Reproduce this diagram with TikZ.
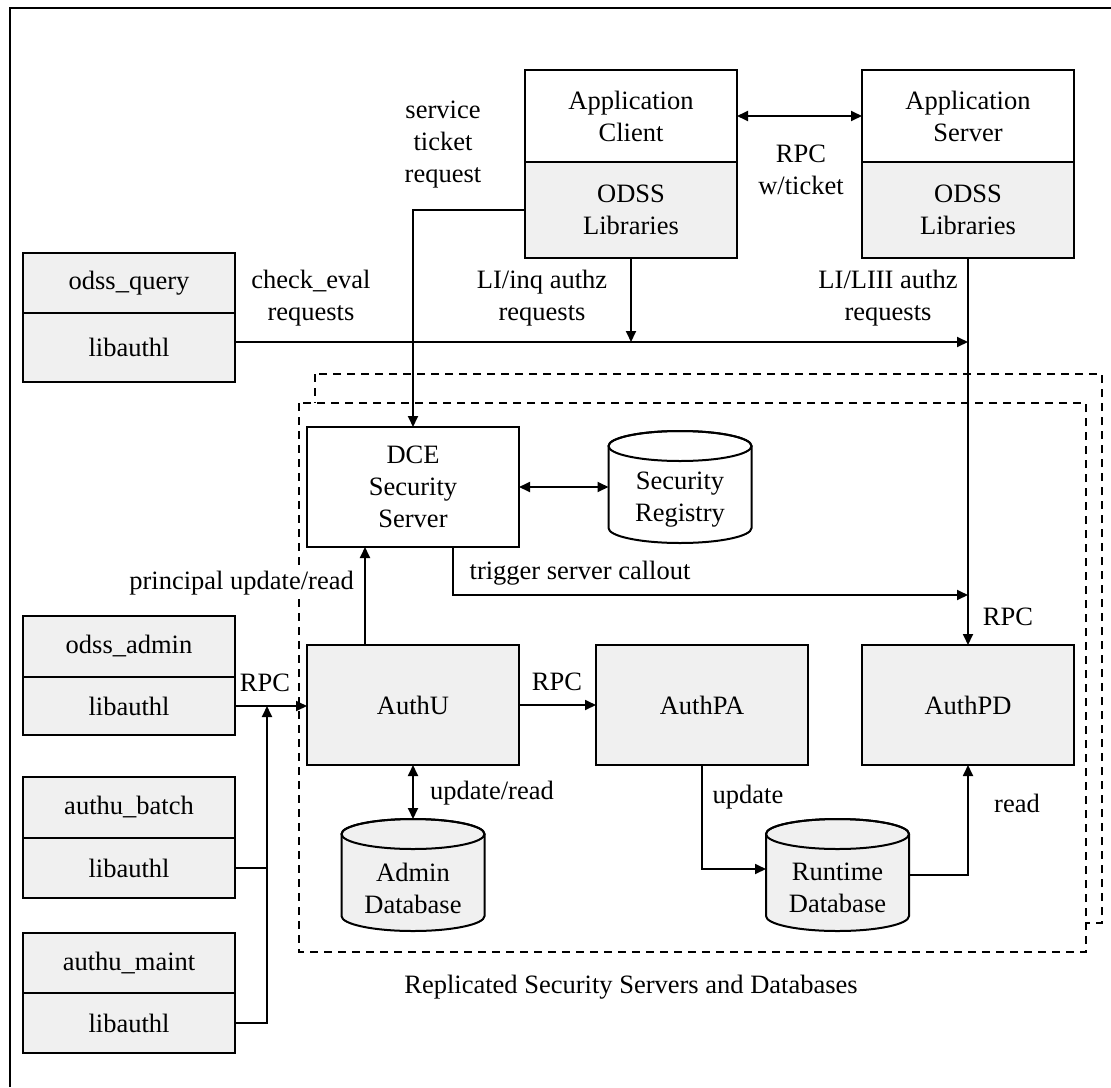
\documentclass[tikz,border=0pt]{standalone}
\usepackage{fontspec}
\setmainfont{Liberation Serif}
\usetikzlibrary{arrows.meta}

\definecolor{boxgray}{HTML}{F0F0F0}

\tikzset{
  box/.style={draw,line width=2pt,minimum width=212pt,inner sep=0pt,outer sep=0pt,align=center,fill=white},
  graybox/.style={box,fill=boxgray},
  dbnode/.style={minimum width=143pt,minimum height=112pt,inner sep=0pt,outer sep=0pt},
  conn/.style={line width=1.8pt},
  arr/.style={conn,-{Triangle[length=11pt,width=10pt]}},
  darr/.style={conn,{Triangle[length=11pt,width=10pt]}-{Triangle[length=11pt,width=10pt]}},
  replica/.style={line width=2pt,dash pattern=on 8pt off 6pt},
  lbl/.style={align=center,inner sep=0pt}
}

% cylinder outline round a dbnode: name, fill
\newcommand\drawdb[2]{%
  \draw[line width=2pt,fill=#2] ([yshift=-15pt]#1.north west) -- ([yshift=15pt]#1.south west)
    arc[start angle=180,end angle=360,x radius=71.5pt,y radius=15pt]
    -- ([yshift=-15pt]#1.north east)
    arc[start angle=0,end angle=180,x radius=71.5pt,y radius=15pt] -- cycle;
  \draw[line width=2pt] ([yshift=-15pt]#1.north) ellipse[x radius=71.5pt,y radius=15pt];}

\begin{document}
\begin{tikzpicture}[x=1pt,y=-1pt,font=\fontsize{26.5}{32}\selectfont]
  \useasboundingbox (0,0) rectangle (1111,1087);
  \draw[line width=2.2pt] (10,1087) -- (10,8) -- (1111,8);

  % replicated servers
  \draw[replica] (315,374) rectangle (1102,923);
  \draw[replica,fill=white] (299,403) rectangle (1086,952);
  \path (631,987) node[lbl] (repl) {Replicated Security Servers and Databases};

  % application client and server
  \path (631,116) node[box,minimum height=92pt] (clienttop) {Application\\Client};
  \path (631,210) node[graybox,minimum height=96pt] (clientlib) {ODSS\\Libraries};
  \path (968,116) node[box,minimum height=92pt] (servertop) {Application\\Server};
  \path (968,210) node[graybox,minimum height=96pt] (serverlib) {ODSS\\Libraries};

  % tools on the left
  \path (129,283) node[graybox,minimum height=60pt] (querytop) {odss\_query};
  \path (129,347.5) node[graybox,minimum height=69pt] (querylib) {libauthl};
  \path (129,646.5) node[graybox,minimum height=61pt] (admintop) {odss\_admin};
  \path (129,706) node[graybox,minimum height=58pt] (adminlib) {libauthl};
  \path (129,807.5) node[graybox,minimum height=61pt] (batchtop) {authu\_batch};
  \path (129,868) node[graybox,minimum height=60pt] (batchlib) {libauthl};
  \path (129,963) node[graybox,minimum height=60pt] (mainttop) {authu\_maint};
  \path (129,1023) node[graybox,minimum height=60pt] (maintlib) {libauthl};

  % servers
  \path (413,487) node[box,minimum height=120pt] (dce) {DCE\\Security\\Server};
  \path (413,705) node[graybox,minimum height=120pt] (authu) {AuthU};
  \path (702,705) node[graybox,minimum height=120pt] (authpa) {AuthPA};
  \path (968,705) node[graybox,minimum height=120pt] (authpd) {AuthPD};

  % databases
  \path (680,487) node[dbnode] (secreg) {};
  \drawdb{secreg}{white}
  \path (secreg.center) node[lbl,yshift=-13pt] {Security\\Registry};
  \path (413,875) node[dbnode] (admindb) {};
  \drawdb{admindb}{boxgray}
  \path (admindb.center) node[lbl,yshift=-13pt] {Admin\\Database};
  \path (837.5,875) node[dbnode] (runtimedb) {};
  \drawdb{runtimedb}{boxgray}
  \path (runtimedb.center) node[lbl,yshift=-13pt] {Runtime\\Database};

  % connectors
  \coordinate (authzbus) at ([yshift=5.5pt]querylib.east);
  \coordinate (rpcjoin) at ([xshift=32pt]adminlib.east);
  \draw[darr] (clienttop.east) -- (servertop.west);
  \draw[arr] (clientlib.west) -| (dce.north);
  \draw[arr] (authzbus) -- (authzbus -| serverlib.south);
  \draw[arr] (clientlib.south) -- (clientlib.south |- authzbus);
  \draw[arr] (serverlib.south) -- (authpd.north);
  \draw[darr] (dce.east) -- (secreg.west);
  \draw[arr] ([xshift=40pt]dce.south) |- ([yshift=-48pt]dce.south -| authpd.north);
  \draw[arr] ([xshift=-48pt]authu.north) -- ([xshift=-48pt]dce.south);
  \draw[arr] (adminlib.east) -- (adminlib.east -| authu.west);
  \draw (batchlib.east) [conn] -- (batchlib.east -| rpcjoin);
  \draw[arr] (maintlib.east) -| (rpcjoin);
  \draw[arr] (authu.east) -- (authpa.west);
  \draw[darr] (authu.south) -- (admindb.north);
  \draw[arr] (authpa.south) |- ([yshift=6pt]runtimedb.west);
  \draw[arr] (runtimedb.east) -| (authpd.south);

  % labels
  \path (443,145) node[lbl] {service\\ticket\\request};
  \path (801,170) node[lbl] {RPC\\w/ticket};
  \path (311,298) node[lbl] {check\_eval\\requests};
  \path (542,298) node[lbl] {LI/inq authz\\requests};
  \path (888,298) node[lbl] {LI/LIII authz\\requests};
  \path (580,573) node[lbl] {trigger server callout};
  \path (357,583) node[lbl,anchor=east,fill=white,inner sep=3pt] {principal update/read};
  \path (1008,617) node[lbl] {RPC};
  \path (265,683) node[lbl] {RPC};
  \path (557,682) node[lbl] {RPC};
  \path (492,793) node[lbl] {update/read};
  \path (748,797) node[lbl] {update};
  \path (1017,803) node[lbl] {read};
\end{tikzpicture}
\end{document}
